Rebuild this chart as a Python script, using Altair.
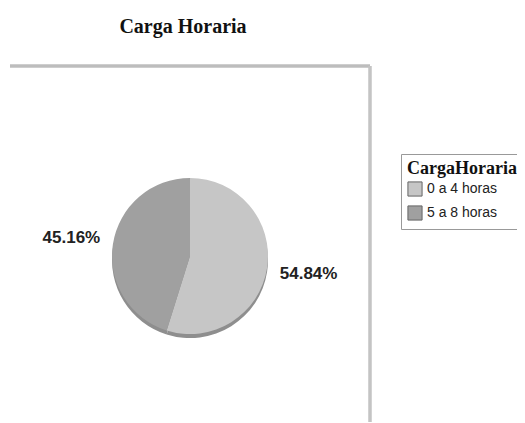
import altair as alt
import pandas as pd

categories = ["0 a 4 horas", "5 a 8 horas"]
values = [54.84, 45.16]
labels = ["54.84%", "45.16%"]
colors = ["#c6c6c6", "#a0a0a0"]

df = pd.DataFrame({"cat": categories, "val": values, "lab": labels, "ord": [0, 1]})

W, H = 509, 414
CX, CY, R = 182, 248, 78

base = alt.Chart(df).encode(
    theta=alt.Theta("val:Q", stack=True),
    order=alt.Order("ord:O"),
)

shadow = base.mark_arc(outerRadius=R, color="#8e8e8e").encode(
    x=alt.value(CX), y=alt.value(CY + 4)
)

pie = base.mark_arc(outerRadius=R).encode(
    x=alt.value(CX), y=alt.value(CY),
    color=alt.Color(
        "cat:N",
        scale=alt.Scale(domain=categories, range=colors),
        legend=alt.Legend(
            title="CargaHoraria", orient="none", legendX=393, legendY=146,
            titleFont="Liberation Serif", titleFontSize=18, titleFontWeight="bold",
            titleColor="#111", labelFont="Liberation Sans", labelFontSize=14,
            labelColor="#222", symbolType="square", symbolSize=200,
            symbolStrokeColor="#666", symbolStrokeWidth=1, symbolOpacity=1,
            strokeColor="#999", padding=6, rowPadding=4, titlePadding=3,
            fillColor="white",
        ),
    ),
)

text = base.mark_text(radius=120, font="Liberation Sans", fontSize=17,
                      fontWeight="bold", color="#222").encode(
    x=alt.value(CX), y=alt.value(CY), text="lab:N"
)

frame_top = alt.Chart(df).mark_rule(color="#bdbdbd", strokeWidth=3).encode(
    x=alt.value(2), x2=alt.value(362), y=alt.value(58)
)
frame_right = alt.Chart(df).mark_rule(color="#c4c4c4", strokeWidth=3).encode(
    x=alt.value(362), y=alt.value(58), y2=alt.value(H)
)

title = alt.Chart(pd.DataFrame({"t": ["Carga Horaria"]})).mark_text(
    font="Liberation Serif", fontSize=20, fontWeight="bold", color="#111"
).encode(x=alt.value(175), y=alt.value(19), text="t:N")

chart = alt.layer(frame_top, frame_right, shadow, pie, text, title).properties(
    width=W, height=H, autosize=alt.AutoSizeParams(type="none"), padding=0
).configure_view(stroke=None)

chart.save("out.html", embed_options={"renderer": "svg", "actions": False})
